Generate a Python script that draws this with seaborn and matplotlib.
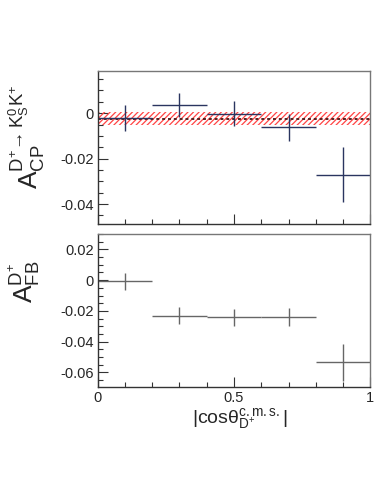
import numpy as np
import pandas as pd
import matplotlib
matplotlib.use("Agg")
import matplotlib.pyplot as plt
import seaborn as sns
from matplotlib.ticker import MultipleLocator, FixedLocator

# ---- data ----
bin_centers = [0.1, 0.3, 0.5, 0.7, 0.9]
bin_halfwidth = [0.1, 0.1, 0.1, 0.1, 0.1]
acp_values = [-0.0020, 0.0036, -0.0002, -0.0062, -0.0272]
acp_errors = [0.0057, 0.0054, 0.0054, 0.0059, 0.0121]
afb_values = [-0.0007, -0.0232, -0.0243, -0.0239, -0.0535]
afb_errors = [0.0054, 0.0055, 0.0057, 0.0060, 0.0122]
acp_avg = -0.0025
acp_avg_err = 0.0029
x_ticklabels = ["0", "0.5", "1"]

sns.set_theme(style="ticks")
plt.rcParams['font.family'] = ['Liberation Sans', 'DejaVu Sans']
plt.rcParams['mathtext.fontset'] = 'custom'
plt.rcParams['mathtext.rm'] = 'Liberation Sans'
plt.rcParams['mathtext.it'] = 'Liberation Sans'
plt.rcParams['mathtext.bf'] = 'Liberation Sans'
plt.rcParams['hatch.linewidth'] = 0.9

fig = plt.figure(figsize=(3.81, 4.93), dpi=100)
ax1 = fig.add_axes([0.2564, 0.5456, 0.7155, 0.311])
ax2 = fig.add_axes([0.2564, 0.2156, 0.7155, 0.3098])

frame_col = '#777777'
for ax in (ax1, ax2):
    for s in ax.spines.values():
        s.set_color(frame_col)
        s.set_linewidth(1.0)
    ax.spines['left'].set_color('#333333')
    ax.spines['bottom'].set_color('#333333')
    ax.set_xlim(0, 1)
    ax.xaxis.set_major_locator(FixedLocator([0, 0.5, 1]))
    ax.xaxis.set_minor_locator(MultipleLocator(0.1))
    ax.yaxis.set_major_locator(MultipleLocator(0.02))
    ax.yaxis.set_minor_locator(MultipleLocator(0.005))
    ax.tick_params(which='both', direction='in', top=False, right=False,
                   color='#333333', labelsize=10.5, pad=3)
    ax.tick_params(which='major', length=7, width=0.8)
    ax.tick_params(which='minor', length=3.5, width=0.8)

def yfmt(v):
    if abs(v) < 1e-9:
        return "0"
    return f"{v:.2f}"

# ---- top panel ----
ax1.set_ylim(-0.0488, 0.0187)
ax1.fill_between([0, 1], acp_avg - acp_avg_err, acp_avg + acp_avg_err,
                 facecolor='none', edgecolor='#ff4444', hatch='//////', linewidth=0)
band_df = pd.DataFrame({'x': [0, 1], 'y': [acp_avg, acp_avg]})
sns.lineplot(data=band_df, x='x', y='y', ax=ax1, color='#552222',
             linestyle=(0, (1.5, 1.5)), linewidth=1.4, legend=False)
ax1.errorbar(bin_centers, acp_values, xerr=bin_halfwidth, yerr=acp_errors,
             fmt='none', ecolor='#2a3560', elinewidth=1.0, capsize=0)
ax1.set_xticklabels([])
ax1.set_yticks([0, -0.02, -0.04])
ax1.set_yticklabels([yfmt(v) for v in [0, -0.02, -0.04]])
ax1.set_xlabel('')
ax1.set_ylabel(r'$\mathregular{A_{CP}^{D^{+}\!\rightarrow K_{S}^{0}K^{+}}}$', fontsize=19)
ax1.yaxis.set_label_coords(-0.185, 0.57)

# ---- bottom panel ----
ax2.set_ylim(-0.0693, 0.030)
ax2.errorbar(bin_centers, afb_values, xerr=bin_halfwidth, yerr=afb_errors,
             fmt='none', ecolor='#666666', elinewidth=1.0, capsize=0)
ax2.set_yticks([0.02, 0, -0.02, -0.04, -0.06])
ax2.set_yticklabels([yfmt(v) for v in [0.02, 0, -0.02, -0.04, -0.06]])
ax2.set_xticklabels(x_ticklabels)
ax2.set_ylabel(r'$\mathregular{A_{FB}^{D^{+}}}$', fontsize=19)
ax2.yaxis.set_label_coords(-0.205, 0.69)
ax2.set_xlabel(r'$\mathregular{|cos\theta_{D^{+}}^{c.m.s.}|}$', fontsize=14)
ax2.xaxis.set_label_coords(0.52, -0.13)
ax2.xaxis.label.set_va('top')

fig.savefig('out.png', dpi=100)
